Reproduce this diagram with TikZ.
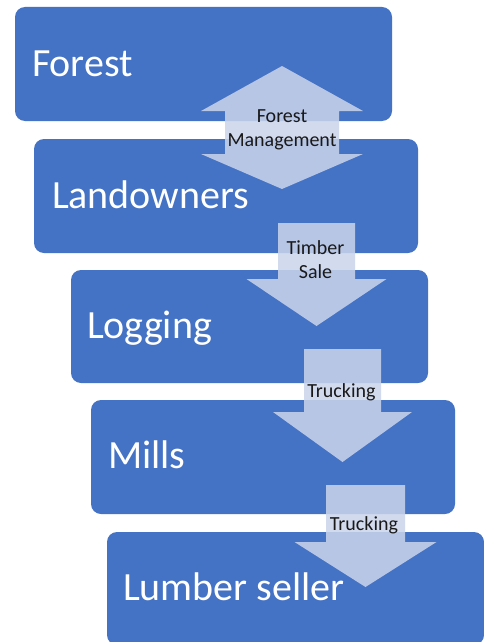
\documentclass[tikz,border=0pt]{standalone}
\usepackage{fontspec}
\setmainfont{Carlito}
\usetikzlibrary{calc}
\definecolor{boxblue}{RGB}{68,114,196}
\definecolor{arrowtint}{RGB}{203,212,235}
\newcommand{\flowarrow}[6]% #1=centre x, #2=top y, #3=y of head base, #4=y of tip
{% #5=half width of shaft, #6=half width of head
\fill[arrowtint,opacity=0.86] (#1-#5,#2) -- (#1+#5,#2) -- (#1+#5,#3) -- (#1+#6,#3)
  -- (#1,#4) -- (#1-#6,#3) -- (#1-#5,#3) -- cycle;}

\begin{document}
\begin{tikzpicture}[x=0.75pt,y=-0.75pt,
    blockbox/.style={fill=boxblue,rounded corners=7.5pt,inner sep=0pt},
    blocktxt/.style={anchor=base west,text=white,inner sep=0pt,font=\fontsize{30}{36}\selectfont},
    arrowlbl/.style={anchor=base,align=center,text=black!90,inner sep=0pt,font=\fontsize{15}{17.5}\selectfont}]
        \useasboundingbox (0,0) rectangle (483,642);
        \fill[white] (0,0) rectangle (483,642);
        % the five stages
        \node[blockbox,minimum width=282.75pt,minimum height=85.5pt] (forest) at (203.5,64) {};
        \node[blockbox,minimum width=288pt,minimum height=85.5pt] (owners) at (226,196) {};
        \node[blockbox,minimum width=267.75pt,minimum height=84.75pt] (logging) at (249.5,326.5) {};
        \node[blockbox,minimum width=273pt,minimum height=85.5pt] (mills) at (273,457) {};
        \node[blockbox,minimum width=282.75pt,minimum height=84.75pt] (seller) at (295.5,588.5) {};
        \node[blocktxt] (forest-txt) at ($(forest.west)+(17,12)$) {Forest};
        \node[blocktxt] (owners-txt) at ($(owners.west)+(18,12)$) {Landowners};
        \node[blocktxt] (logging-txt) at ($(logging.west)+(16,12)$) {Logging};
        \node[blocktxt] (mills-txt) at ($(mills.west)+(17,11)$) {Mills};
        \node[blocktxt] (seller-txt) at ($(seller.west)+(16,11.5)$) {Lumber seller};
        % block arrows
        \fill[arrowtint,opacity=0.86] (282,66) -- (363,111) -- (339,111) -- (339,154) -- (363,154)
          -- (282,189) -- (201,154) -- (225,154) -- (225,111) -- (201,111) -- cycle;
        \flowarrow{316.5}{223}{279}{326}{38.5}{70}
        \flowarrow{342.5}{349}{412}{462}{38.5}{69.5}
        \flowarrow{365.5}{485}{542}{587}{39.5}{71}
        % arrow labels (base = last line)
        \node[arrowlbl] (manage) at (282,146) {Forest\\Management};
        \node[arrowlbl] (sale) at (315.5,278) {Timber\\Sale};
        \node[arrowlbl] (truck1) at (341.5,397) {Trucking};
        \node[arrowlbl] (truck2) at (364,530) {Trucking};
    \end{tikzpicture}
\end{document}
